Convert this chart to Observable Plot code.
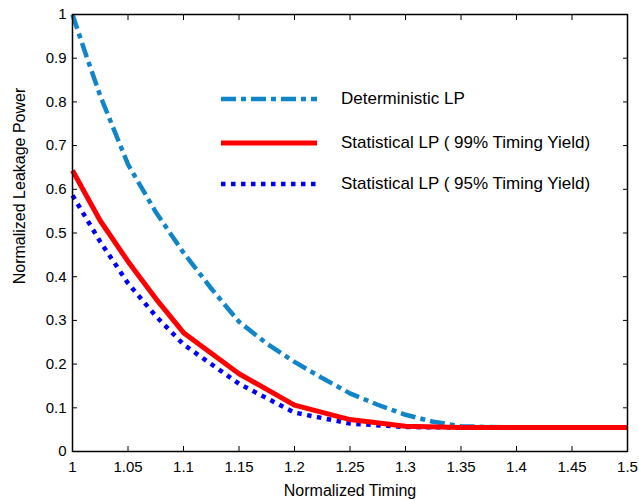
<!DOCTYPE html>
<html>
<head>
<meta charset="utf-8">
<script src="https://cdn.jsdelivr.net/npm/d3@7"></script>
<script src="https://cdn.jsdelivr.net/npm/@observablehq/plot@0.6"></script>
<style>
  html, body { margin: 0; padding: 0; background: #fff; }
  #wrap { position: relative; width: 639px; height: 501px; font-family: "Liberation Sans", Arial, sans-serif; color: #000; }
  .lg-row { position: absolute; left: 221px; height: 20px; display: flex; align-items: center; white-space: nowrap; }
  .lg-row svg { display: block; }
  .lg-row span { font-size: 17px; margin-left: 24px; }
</style>
</head>
<body>
<div id="wrap"></div>
<script>
// ---- data ----
const detTiming = [1.0, 1.0125, 1.025, 1.05, 1.075, 1.1, 1.125, 1.15, 1.175, 1.2, 1.225, 1.25, 1.275, 1.3, 1.325, 1.35, 1.375, 1.4, 1.45, 1.5];
const detPower  = [1.0, 0.905, 0.814, 0.657, 0.548, 0.455, 0.373, 0.297, 0.247, 0.205, 0.168, 0.133, 0.107, 0.084, 0.068, 0.058, 0.056, 0.055, 0.055, 0.055];

const statTiming = [1.0, 1.025, 1.05, 1.075, 1.1, 1.15, 1.2, 1.25, 1.3, 1.35, 1.4, 1.45, 1.5];
const stat99Power = [0.643, 0.528, 0.435, 0.35, 0.272, 0.178, 0.106, 0.073, 0.058, 0.055, 0.055, 0.055, 0.055];
const stat95Power = [0.586, 0.48, 0.385, 0.31, 0.245, 0.155, 0.089, 0.064, 0.056, 0.055, 0.055, 0.055, 0.055];

const xTicks = [1, 1.05, 1.1, 1.15, 1.2, 1.25, 1.3, 1.35, 1.4, 1.45, 1.5];
const yTicks = [0, 0.1, 0.2, 0.3, 0.4, 0.5, 0.6, 0.7, 0.8, 0.9, 1];

const seriesNames = ["Deterministic LP", "Statistical LP ( 99% Timing Yield)", "Statistical LP ( 95% Timing Yield)"];
const seriesColors = ["#1185c9", "#ff0000", "#0000ff"];
const seriesDash = ["15,5,5,5", null, "4.5,5.5"];
const seriesWidth = [4.5, 5, 4.5];

const xTitle = "Normalized Timing";
const yTitle = "Normalized Leakage Power";

// ---- build ----
const detData = detTiming.map((t, i) => ({t, p: detPower[i]}));
const s99Data = statTiming.map((t, i) => ({t, p: stat99Power[i]}));
const s95Data = statTiming.map((t, i) => ({t, p: stat95Power[i]}));

const fmt = d => String(d);

const chart = Plot.plot({
  width: 639,
  height: 501,
  marginLeft: 72,
  marginRight: 12,
  marginTop: 14,
  marginBottom: 50,
  style: { fontFamily: '"Liberation Sans", Arial, sans-serif', fontSize: "15px", background: "#fff", color: "#000" },
  x: { domain: [1, 1.5], nice: false },
  y: { domain: [0, 1], nice: false },
  marks: [
    Plot.line(detData, { x: "t", y: "p", stroke: seriesColors[0], strokeWidth: seriesWidth[0], strokeDasharray: seriesDash[0], strokeLinecap: "butt", strokeLinejoin: "round" }),
    Plot.line(s95Data, { x: "t", y: "p", stroke: seriesColors[2], strokeWidth: seriesWidth[2], strokeDasharray: seriesDash[2], strokeLinecap: "butt", strokeLinejoin: "round" }),
    Plot.line(s99Data, { x: "t", y: "p", stroke: seriesColors[1], strokeWidth: seriesWidth[1], strokeLinecap: "butt", strokeLinejoin: "round" }),
    Plot.axisX({ anchor: "bottom", ticks: xTicks, tickSize: -5, tickPadding: 15, tickFormat: fmt, label: null, fontSize: 15 }),
    Plot.axisX({ anchor: "top", ticks: xTicks, tickSize: -5, tickFormat: () => "", label: null }),
    Plot.axisY({ anchor: "left", ticks: yTicks, tickSize: -5, tickPadding: 11, tickFormat: fmt, label: null, fontSize: 15 }),
    Plot.axisY({ anchor: "right", ticks: yTicks, tickSize: -5, tickFormat: () => "", label: null }),
    Plot.frame({ stroke: "#000", strokeWidth: 1.5 }),
    Plot.text([xTitle], { frameAnchor: "bottom", dy: 39, lineAnchor: "middle", fontSize: 16 }),
    Plot.text([yTitle], { frameAnchor: "left", textAnchor: "middle", rotate: -90, dx: -53, dy: -47, lineAnchor: "middle", fontSize: 16 })
  ]
});

const wrap = document.getElementById("wrap");
wrap.appendChild(chart);

// legend (inside the axes, upper middle)
const legendTops = [89, 133, 174];
seriesNames.forEach((name, i) => {
  const row = document.createElement("div");
  row.className = "lg-row";
  row.style.top = legendTops[i] + "px";
  const svg = d3.create("svg").attr("width", 96).attr("height", 10);
  svg.append("line")
    .attr("x1", 0).attr("x2", 96).attr("y1", 5).attr("y2", 5)
    .attr("stroke", seriesColors[i])
    .attr("stroke-width", seriesWidth[i])
    .attr("stroke-dasharray", seriesDash[i])
    .attr("stroke-linecap", "butt");
  row.appendChild(svg.node());
  const span = document.createElement("span");
  span.textContent = name;
  row.appendChild(span);
  wrap.appendChild(row);
});
</script>
</body>
</html>
